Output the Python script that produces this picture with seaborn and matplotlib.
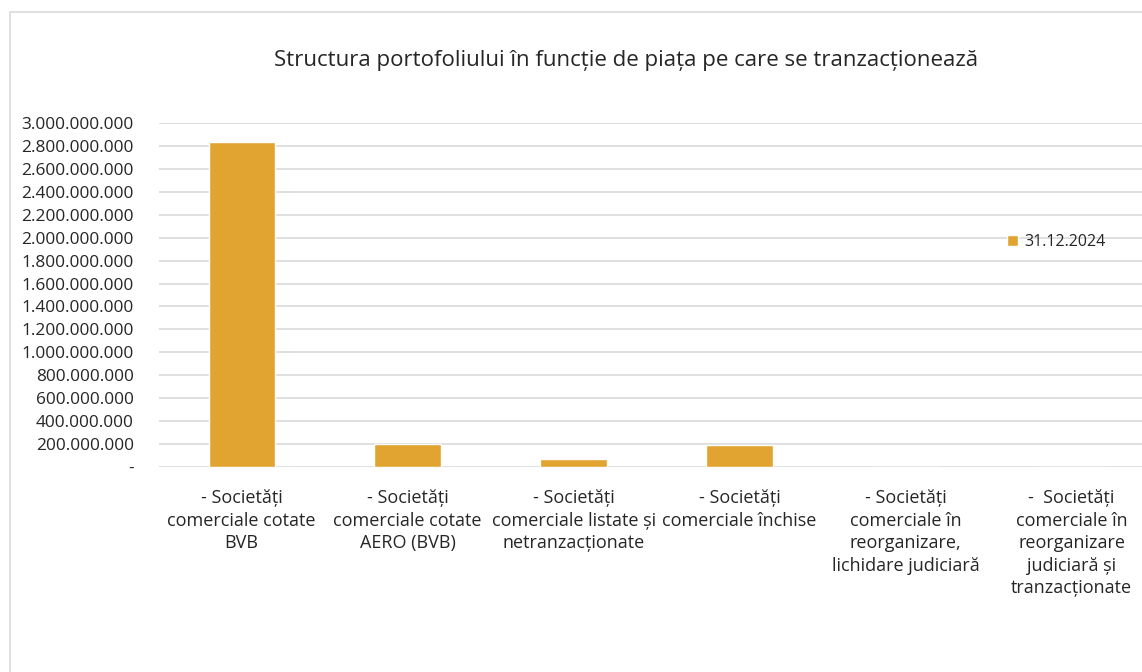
import pandas as pd
import numpy as np
import seaborn as sns
import matplotlib.pyplot as plt
from matplotlib.patches import Rectangle
from matplotlib.ticker import FuncFormatter

# Data
categories = [
    "- Societăți\ncomerciale cotate\nBVB",
    "- Societăți\ncomerciale cotate\nAERO (BVB)",
    "- Societăți\ncomerciale listate și\nnetranzacționate",
    "- Societăți\ncomerciale închise",
    "- Societăți\ncomerciale în\nreorganizare,\nlichidare judiciară",
    "-  Societăți\ncomerciale în\nreorganizare\njudiciară și\ntranzacționate",
]
values = [2830000000, 198000000, 74000000, 190000000, 0, 0]
series_name = "31.12.2024"
title = "Structura portofoliului în funcție de piața pe care se tranzacționează"

bar_color = "#E2A431"
grid_color = "#D9D9D9"
text_color = "#262626"


def fmt_ro(v, pos):
    # Romanian style thousands separator, zero shown as dash
    if v == 0:
        return "-"
    return f"{int(round(v)):,}".replace(",", ".")


def main():
    sns.set_theme(style="white")
    plt.rcParams['font.family'] = ['Open Sans', 'DejaVu Sans']

    df = pd.DataFrame({"cat": categories, "val": values, "serie": series_name})

    fig = plt.figure(figsize=(11.42, 6.72), dpi=100)
    ax = fig.add_axes([0.139, 0.305, 0.872, 0.512])

    sns.barplot(data=df, x="cat", y="val", hue="serie", palette=[bar_color],
                width=0.4, ax=ax, saturation=1)

    ax.set_ylim(0, 3000000000)
    ax.set_yticks(np.arange(0, 3000000001, 200000000))
    ax.yaxis.set_major_formatter(FuncFormatter(fmt_ro))
    ax.grid(axis="y", color=grid_color, linewidth=1.2)
    ax.set_axisbelow(True)
    for s in ax.spines.values():
        s.set_visible(False)

    ax.set_xlabel("")
    ax.set_ylabel("")
    ax.tick_params(axis="y", length=0, pad=18, labelsize=12.4, labelcolor=text_color)
    ax.tick_params(axis="x", length=0, pad=16, labelsize=13, labelcolor=text_color)
    for lbl in ax.get_xticklabels():
        lbl.set_linespacing(1.32)
        lbl.set_verticalalignment("top")

    ax.legend(loc="center left", bbox_to_anchor=(0.852, 0.654), frameon=False,
              fontsize=11.5, handlelength=0.7, handleheight=0.7, handletextpad=0.4,
              borderaxespad=0, borderpad=0, labelcolor=text_color)

    fig.text(0.548, 0.91, title, ha="center", va="center", fontsize=16,
             color=text_color)

    # light frame around the chart area
    fig.patches.append(Rectangle((10 / 1142, -0.1), 1.2, 1 - 12 / 672 + 0.1,
                                 transform=fig.transFigure, fill=False,
                                 edgecolor=grid_color, linewidth=1.2))

    fig.savefig("out.png", dpi=100, facecolor="white")


if __name__ == "__main__":
    main()
